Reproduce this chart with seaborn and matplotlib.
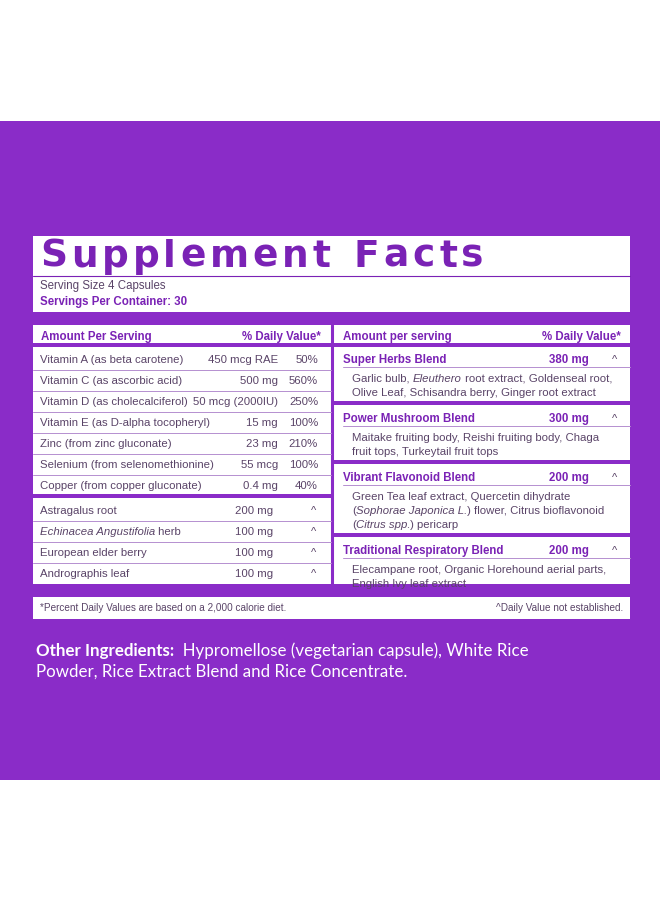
import matplotlib.pyplot as plt
import seaborn as sns
from matplotlib.patches import Rectangle

sns.set_theme(style="white")
plt.rcParams['font.family'] = ['Liberation Sans', 'DejaVu Sans']

# ---- label content ----
title = "Supplement Facts"
serving_size = "Serving Size 4 Capsules"
servings_per = "Servings Per Container: 30"

left_names = [
    [("Vitamin A (as beta carotene)", "normal")],
    [("Vitamin C (as ascorbic acid)", "normal")],
    [("Vitamin D (as cholecalciferol)", "normal")],
    [("Vitamin E (as D-alpha tocopheryl)", "normal")],
    [("Zinc (from zinc gluconate)", "normal")],
    [("Selenium (from selenomethionine)", "normal")],
    [("Copper (from copper gluconate)", "normal")],
]
left_amounts = ["450 mcg RAE", "500 mg", "50 mcg (2000IU)", "15 mg", "23 mg", "55 mcg", "0.4 mg"]
left_dv = ["50%", "560%", "250%", "100%", "210%", "100%", "40%"]

herb_names = [
    [("Astragalus root", "normal")],
    [("Echinacea Angustifolia", "italic"), (" herb", "normal")],
    [("European elder berry", "normal")],
    [("Andrographis leaf", "normal")],
]
herb_amounts = ["200 mg", "100 mg", "100 mg", "100 mg"]

blend_names = ["Super Herbs Blend", "Power Mushroom Blend", "Vibrant Flavonoid Blend",
               "Traditional Respiratory Blend"]
blend_amounts = ["380 mg", "300 mg", "200 mg", "200 mg"]
blend_desc = [
    [[("Garlic bulb, ", "normal"), ("Eleuthero", "italic"), (" root extract, Goldenseal root,", "normal")],
     [("Olive Leaf, Schisandra berry, Ginger root extract", "normal")]],
    [[("Maitake fruiting body, Reishi fruiting body, Chaga", "normal")],
     [("fruit tops, Turkeytail fruit tops", "normal")]],
    [[("Green Tea leaf extract, Quercetin dihydrate", "normal")],
     [("(", "normal"), ("Sophorae Japonica L.", "italic"), (") flower, Citrus bioflavonoid", "normal")],
     [("(", "normal"), ("Citrus spp.", "italic"), (") pericarp", "normal")]],
    [[("Elecampane root, Organic Horehound aerial parts,", "normal")],
     [("English Ivy leaf extract", "normal")]],
]

footnote_left = "*Percent Daily Values are based on a 2,000 calorie diet."
footnote_right = "^Daily Value not established."
other_bold = "Other Ingredients:"
other_lines = ["  Hypromellose (vegetarian capsule), White Rice",
               "Powder, Rice Extract Blend and Rice Concentrate."]

PURPLE = "#8a2cc8"
INK = "#7a22b5"
GREY = "#5a4468"
LIGHT = "#b58fd0"

fig = plt.figure(figsize=(6.6, 9.04), dpi=100)
ax = fig.add_axes([0, 0, 1, 1])
ax.set_xlim(0, 660)
ax.set_ylim(904, 0)
ax.axis("off")
fig.patch.set_facecolor("white")
renderer = fig.canvas.get_renderer()

ax.add_patch(Rectangle((0, 122), 660, 659, color=PURPLE, lw=0))
ax.add_patch(Rectangle((33, 237), 597, 383, color="white", lw=0))


def bar(x0, x1, y0, y1, c=PURPLE):
    ax.add_patch(Rectangle((x0, y0), x1 - x0, y1 - y0, color=c, lw=0))


def runs(x, y, parts, size=8.2, color=GREY, weight="normal"):
    for txt, style in parts:
        t = ax.text(x, y, txt, fontsize=size, color=color, style=style, weight=weight,
                    va="center", ha="left")
        x += t.get_window_extent(renderer).width


# title with wide letter spacing
x = 40
for ch in title:
    t = ax.text(x, 257, ch, fontsize=27, weight="heavy", color=INK, va="center",
                family="DejaVu Sans")
    x += t.get_window_extent(renderer).width + (4 if ch != " " else 6)
ax.plot([33, 630], [276.5, 276.5], color=INK, lw=0.8)
ax.text(40, 286, serving_size, fontsize=8.3, color=GREY, va="center")
ax.text(40, 302, servings_per, fontsize=8.3, color=INK, weight="bold", va="center")

bar(33, 630, 313, 326)
ax.plot([332, 332], [326, 585], color=PURPLE, lw=2.2)

# headers
ax.text(41, 337, "Amount Per Serving", fontsize=8.3, color=INK, weight="bold", va="center")
ax.text(321, 337, "% Daily Value*", fontsize=8.3, color=INK, weight="bold", va="center", ha="right")
ax.text(343, 337, "Amount per serving", fontsize=8.3, color=INK, weight="bold", va="center")
ax.text(621, 337, "% Daily Value*", fontsize=8.3, color=INK, weight="bold", va="center", ha="right")
bar(33, 331, 344, 348)
bar(333, 630, 344, 348)

# left vitamins
y = 360
for i, (nm, amt, dv) in enumerate(zip(left_names, left_amounts, left_dv)):
    runs(40, y, nm)
    ax.text(278, y, amt, fontsize=8.2, color=GREY, va="center", ha="right")
    ax.text(318, y, dv, fontsize=8.2, color=GREY, va="center", ha="right")
    if i < len(left_names) - 1:
        ax.plot([33, 331], [y + 10.5, y + 10.5], color=LIGHT, lw=0.7)
    y += 21
bar(33, 331, 495, 499)
y = 511
for i, (nm, amt) in enumerate(zip(herb_names, herb_amounts)):
    runs(40, y, nm)
    ax.text(273, y, amt, fontsize=8.2, color=GREY, va="center", ha="right")
    ax.text(314, y, "^", fontsize=8, color=GREY, va="center", ha="center")
    if i < len(herb_names) - 1:
        ax.plot([33, 331], [y + 10.5, y + 10.5], color=LIGHT, lw=0.7)
    y += 21

# right blends
y = 360
for i, (nm, amt, desc) in enumerate(zip(blend_names, blend_amounts, blend_desc)):
    ax.text(343, y, nm, fontsize=8.3, color=INK, weight="bold", va="center")
    ax.text(589, y, amt, fontsize=8.3, color=INK, weight="bold", va="center", ha="right")
    ax.text(615, y, "^", fontsize=8, color=GREY, va="center", ha="center")
    ax.plot([343, 630], [y + 8, y + 8], color=LIGHT, lw=0.7)
    yy = y + 19
    for line in desc:
        runs(352, yy, line)
        yy += 14
    if i < len(blend_names) - 1:
        bar(333, 630, yy - 5, yy - 1)
        y = yy + 12

bar(33, 630, 585, 598)
ax.text(40, 608, footnote_left, fontsize=7.2, color=GREY, va="center")
ax.text(623, 608, footnote_right, fontsize=7.2, color=GREY, va="center", ha="right")

# other ingredients
t = ax.text(36, 651, other_bold, fontsize=12.2, color="white", weight="bold", va="center",
            family=["Lato", "DejaVu Sans"])
ax.text(36 + t.get_window_extent(renderer).width, 651, other_lines[0], fontsize=12.2,
        color="white", va="center", family=["Lato", "DejaVu Sans"])
ax.text(36, 672, other_lines[1], fontsize=12.2, color="white", va="center",
        family=["Lato", "DejaVu Sans"])

fig.savefig("out.png", dpi=100, facecolor="white")
